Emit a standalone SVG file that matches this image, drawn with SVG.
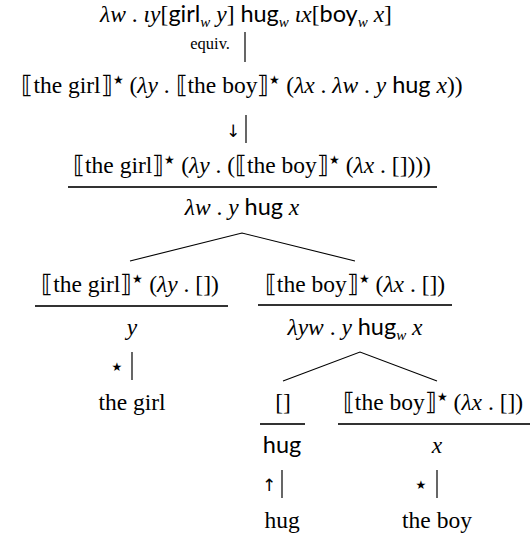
<svg xmlns="http://www.w3.org/2000/svg" width="530" height="538" viewBox="0 0 530 538">
<style>
text{font-family:"Liberation Serif","DejaVu Serif",serif;font-size:23.5px;fill:#000}
.m{text-anchor:middle}
.i{font-style:italic}
.s{font-family:Lato,"Liberation Sans",sans-serif;font-style:normal}
.sub{font-size:15px;font-style:italic}
.sup{font-size:12px}
.sm{font-size:16.5px}
.ar{font-family:"DejaVu Sans",sans-serif;font-size:17px}
.st{font-family:"DejaVu Sans",sans-serif;font-size:12px}
.bar{stroke:#000;stroke-width:1.2;fill:none}
.rule{stroke:#333;stroke-width:1.8;fill:none}
.edge{stroke:#000;stroke-width:1.1;fill:none}
</style>
<g id="n-top">
<text class="m" x="246" y="22"><tspan class="i">λw</tspan> . <tspan class="i">ιy</tspan>[<tspan class="s">girl</tspan><tspan class="sub" dy="5">w</tspan><tspan class="i" dy="-5"> y</tspan>] <tspan class="s">hug</tspan><tspan class="sub" dy="5">w</tspan><tspan class="i" dy="-5"> ιx</tspan>[<tspan class="s">boy</tspan><tspan class="sub" dy="5">w</tspan><tspan class="i" dy="-5"> x</tspan>]</text>
</g>
<g id="n-line2">
<text class="m" x="242" y="93">⟦the girl⟧<tspan class="sup" dy="-9">★</tspan><tspan dy="9">  (</tspan><tspan class="i">λy</tspan> .  ⟦the boy⟧<tspan class="sup" dy="-9">★</tspan><tspan dy="9">  (</tspan><tspan class="i">λx</tspan> . <tspan class="i">λw</tspan> . <tspan class="i">y</tspan> <tspan class="s">hug</tspan> <tspan class="i">x</tspan>))</text>
</g>
<g id="n-line3">
<text class="m" x="252" y="173">⟦the girl⟧<tspan class="sup" dy="-9">★</tspan><tspan dy="9">  (</tspan><tspan class="i">λy</tspan> . (⟦the boy⟧<tspan class="sup" dy="-9">★</tspan><tspan dy="9">  (</tspan><tspan class="i">λx</tspan> . [])))</text>
<text class="m" x="242" y="215"><tspan class="i">λw</tspan> . <tspan class="i">y</tspan> <tspan class="s">hug</tspan> <tspan class="i">x</tspan></text>
</g>
<g id="n-girl">
<text class="m" x="130" y="292">⟦the girl⟧<tspan class="sup" dy="-9">★</tspan><tspan dy="9">  (</tspan><tspan class="i">λy</tspan> . [])</text>
<text class="m i" x="132" y="335">y</text>
<text class="m" x="132" y="410">the girl</text>
</g>
<g id="n-boy-outer">
<text class="m" x="355" y="292">⟦the boy⟧<tspan class="sup" dy="-9">★</tspan><tspan dy="9">  (</tspan><tspan class="i">λx</tspan> . [])</text>
<text class="m" x="355" y="335"><tspan class="i">λyw</tspan> . <tspan class="i">y</tspan> <tspan class="s">hug</tspan><tspan class="sub" dy="5">w</tspan><tspan class="i" dy="-5"> x</tspan></text>
</g>
<g id="n-hug">
<text class="m" x="283" y="410">[]</text>
<text class="m s" x="282" y="453">hug</text>
<text class="m" x="282" y="528">hug</text>
</g>
<g id="n-boy">
<text class="m" x="433" y="410">⟦the boy⟧<tspan class="sup" dy="-9">★</tspan><tspan dy="9">  (</tspan><tspan class="i">λx</tspan> . [])</text>
<text class="m i" x="437" y="453">x</text>
<text class="m" x="437" y="528">the boy</text>
</g>
<g id="connectors">
<line class="bar" x1="245" y1="32" x2="245" y2="62"/>
<text class="sm" x="230" y="49" text-anchor="end">equiv.</text>
<line class="bar" x1="246" y1="115" x2="246" y2="143"/>
<text class="m ar" x="233" y="137">↓</text>
<line class="rule" x1="68" y1="187" x2="437" y2="187"/>
<polyline class="edge" points="130,261 242,233 355,261"/>
<line class="rule" x1="35" y1="306" x2="228" y2="306"/>
<line class="rule" x1="258" y1="305" x2="452" y2="305"/>
<line class="bar" x1="132" y1="352" x2="132" y2="380"/>
<text class="m st" x="117" y="371">★</text>
<polyline class="edge" points="283,381 360,352 437,381"/>
<line class="rule" x1="260" y1="424" x2="305" y2="424"/>
<line class="rule" x1="338" y1="424" x2="530" y2="424"/>
<line class="bar" x1="282" y1="470" x2="282" y2="498"/>
<text class="m ar" x="269" y="491">↑</text>
<line class="bar" x1="437" y1="470" x2="437" y2="498"/>
<text class="m st" x="421" y="489">★</text>
</g>
</svg>
